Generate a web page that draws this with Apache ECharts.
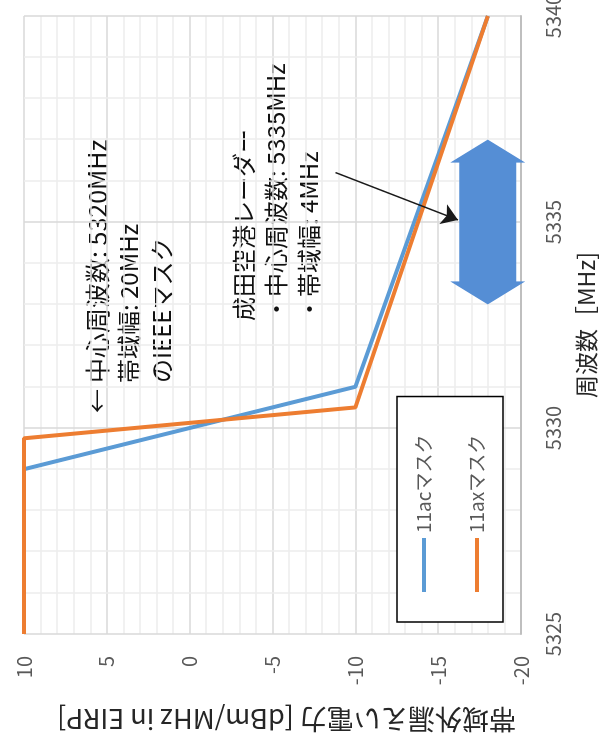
<!DOCTYPE html>
<html>
<head>
<meta charset="utf-8">
<script src="https://cdn.jsdelivr.net/npm/echarts@6/dist/echarts.min.js"></script>
<style>
  html, body { margin: 0; padding: 0; background: #fff; overflow: hidden; }
  #wrap { position: absolute; left: 0; top: 0; width: 601px; height: 749px; overflow: hidden; }
  /* chart is laid out landscape, then turned a quarter turn counter-clockwise */
  #chart { position: absolute; left: 0; top: 0; width: 749px; height: 601px;
           transform-origin: 0 0; transform: translateY(749px) rotate(-90deg); }
</style>
</head>
<body>
<div id="wrap"><div id="chart"></div></div>
<script>
const seriesNames = ['11acマスク', '11axマスク'];
const freq11ac = [5325, 5329, 5331, 5340];
const level11ac = [10, 10, -10, -18];
const freq11ax = [5325, 5329.75, 5330.5, 5340];
const level11ax = [10, 10, -10, -18];
const freqTicks = [5325, 5330, 5335, 5340];
const levelTicks = [-20, -15, -10, -5, 0, 5, 10];
// Narita airport radar: 5335MHz centre, 4MHz wide
const radarBand = [5333, 5337];
const radarLevel = -18;
const pointerFrom = [5336.2, -8.8];
const pointerTo = [5335.05, -16.2];

const FONT = '"Noto Sans CJK JP", "Noto Sans", sans-serif';
const chart = echarts.init(document.getElementById('chart'));

const toPairs = (xs, ys) => xs.map((x, i) => [x, ys[i]]);
const note = (x, y, text, size, align) => ({
  type: 'text', x, y,
  style: { text, font: size + 'px ' + FONT, fill: '#111', textAlign: align || 'left', textVerticalAlign: 'middle' }
});

const option = {
  backgroundColor: '#fff',
  animation: false,
  textStyle: { fontFamily: FONT },
  grid: { left: 115, right: 16, top: 24, bottom: 80, outerBoundsMode: 'none' },
  legend: {
    data: seriesNames,
    orient: 'vertical',
    left: 127,
    top: 397,
    padding: [16, 38, 15, 30],
    itemGap: 31,
    itemWidth: 54,
    itemHeight: 4,
    itemTextGap: 5,
    icon: 'rect',
    borderColor: '#000',
    borderWidth: 1.5,
    backgroundColor: '#fff',
    textStyle: { fontFamily: FONT, fontSize: 19, color: '#595959', lineHeight: 22 }
  },
  xAxis: {
    type: 'value',
    min: freqTicks[0],
    max: freqTicks[freqTicks.length - 1],
    interval: 5,
    name: '周波数［MHz]',
    nameLocation: 'middle',
    nameGap: 54,
    nameTextStyle: { fontFamily: FONT, fontSize: 23, color: '#262626' },
    axisLine: { show: true, onZero: false, lineStyle: { color: '#bfbfbf', width: 2 } },
    axisTick: { show: false },
    axisLabel: { fontFamily: FONT, fontSize: 20, color: '#595959', margin: 22, formatter: v => String(v) },
    splitLine: { show: true, lineStyle: { color: '#d9d9d9', width: 1.5 } },
    minorTick: { show: false, splitNumber: 5 },
    minorSplitLine: { show: true, lineStyle: { color: '#ededed', width: 1.5 } }
  },
  yAxis: {
    type: 'value',
    min: levelTicks[0],
    max: levelTicks[levelTicks.length - 1],
    interval: 5,
    name: '帯域外漏えい電力 [dBm/MHz in EIRP]',
    nameLocation: 'middle',
    nameGap: 72,
    nameRotate: 90,
    nameTextStyle: { fontFamily: FONT, fontSize: 27, color: '#262626', padding: [0, 28, 0, 0] },
    axisLine: { show: false },
    axisTick: { show: false },
    axisLabel: { fontFamily: FONT, fontSize: 20, color: '#595959', margin: 22 },
    splitLine: { show: true, lineStyle: { color: '#d9d9d9', width: 1.5 } },
    minorTick: { show: false, splitNumber: 5 },
    minorSplitLine: { show: true, lineStyle: { color: '#ededed', width: 1.5 } }
  },
  series: [
    {
      name: seriesNames[0],
      type: 'line',
      data: toPairs(freq11ac, level11ac),
      showSymbol: false,
      lineStyle: { color: '#5b9bd5', width: 4 },
      itemStyle: { color: '#5b9bd5' },
      z: 3
    },
    {
      name: seriesNames[1],
      type: 'line',
      data: toPairs(freq11ax, level11ax),
      showSymbol: false,
      lineStyle: { color: '#ed7d31', width: 4 },
      itemStyle: { color: '#ed7d31' },
      z: 4
    },
    {
      name: 'radar',
      type: 'custom',
      clip: false,
      z: 5,
      data: [[radarBand[0], radarBand[1], radarLevel]],
      renderItem: (params, api) => {
        const a = api.coord([api.value(0), api.value(2)]);
        const b = api.coord([api.value(1), api.value(2)]);
        const head = 23, hw = 37.5, sw = 28.5;
        const cy = a[1];
        return {
          type: 'polygon',
          shape: { points: [
            [a[0], cy], [a[0] + head, cy - hw], [a[0] + head, cy - sw],
            [b[0] - head, cy - sw], [b[0] - head, cy - hw], [b[0], cy],
            [b[0] - head, cy + hw], [b[0] - head, cy + sw],
            [a[0] + head, cy + sw], [a[0] + head, cy + hw]
          ] },
          style: { fill: '#558ed5' }
        };
      }
    },
    {
      name: 'pointer',
      type: 'lines',
      coordinateSystem: 'cartesian2d',
      z: 6,
      symbol: ['none', 'arrow'],
      symbolSize: [14, 16],
      lineStyle: { color: '#1a1a1a', width: 1.5, opacity: 1 },
      data: [{ coords: [pointerFrom, pointerTo] }]
    }
  ],
  graphic: [
    note(360, 97, '←', 24, 'right'),
    note(366, 97, '中心周波数: 5320MHz', 25),
    note(366, 129, '帯域幅: 20MHz', 24),
    note(366, 162, 'のIEEEマスク', 24),
    note(428, 244, '成田空港レーダー', 24),
    note(428, 276, '・中心周波数: 5335MHz', 24),
    note(428, 309, '・帯域幅: 4MHz', 24)
  ]
};

chart.setOption(option);
</script>
</body>
</html>
